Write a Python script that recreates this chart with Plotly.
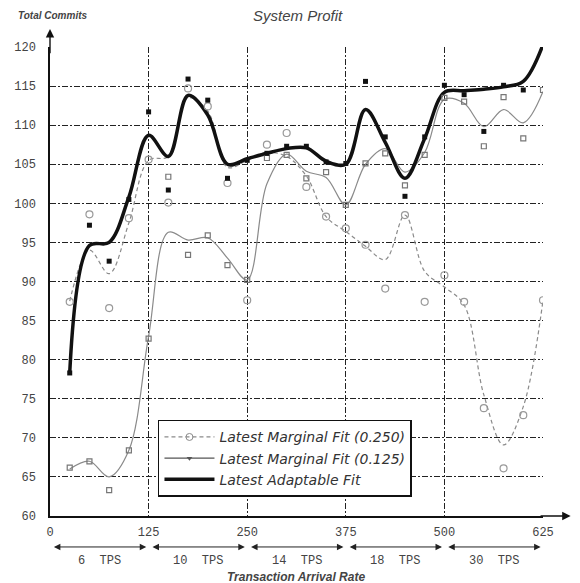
import plotly.graph_objects as go

# ---------------- data ----------------
rates = [25, 50, 75, 100, 125, 150, 175, 200, 225, 250, 275, 300, 325,
         350, 375, 400, 425, 450, 475, 500, 525, 550, 575, 600, 625]

# smoothed fits
fit_250 = [87.5, 94.0, 91.0, 97.5, 105.5, 106.0, 113.5, 111.8, 104.6, 105.5, 106.5, 106.0, 103.5,
           98.3, 96.4, 94.5, 92.8, 98.5, 91.3, 89.3, 87.0, 75.5, 69.1, 74.0, 87.6]
fit_125 = [66.0, 67.0, 65.0, 68.4, 83.0, 96.3, 95.3, 95.6, 93.0, 90.2, 102.5, 106.3, 104.1,
           103.3, 99.8, 105.0, 107.0, 104.0, 106.5, 113.3, 112.8, 109.8, 112.0, 110.3, 114.3]
fit_adapt = [78.3, 94.6, 95.0, 100.8, 108.7, 106.0, 113.8, 111.3, 105.0, 105.7, 106.4, 107.0, 107.1,
             105.4, 105.0, 112.0, 107.8, 103.2, 108.3, 114.2, 114.4, 114.6, 114.9, 115.6, 120.3]

# observed points
pts_250 = [87.4, 98.6, 86.6, 98.1, 105.6, 100.1, 114.7, 112.4, 102.6, 87.6, 107.5, 109.0, 102.1,
           98.3, 96.8, 94.7, 89.1, 98.5, 87.4, 90.8, 87.4, 73.8, 66.1, 72.9, 87.6]
pts_125 = [66.2, 67.0, 63.3, 68.4, 82.7, 103.4, 93.4, 95.9, 92.1, 90.2, 105.8, 106.2, 103.2,
           104.0, 99.8, 105.1, 106.4, 102.3, 106.2, 113.5, 113.0, 107.3, 113.6, 108.3, 114.5]
pts_adapt = [78.3, 97.2, 92.6, 100.5, 111.7, 101.7, 115.9, 113.2, 103.2, 105.5, 106.4, 107.3, 107.3,
             105.3, 105.1, 115.6, 108.5, 100.9, 108.5, 115.1, 113.9, 109.2, 115.1, 114.5, 120.3]

x_ticks = [0, 125, 250, 375, 500, 625]
y_ticks = [60, 65, 70, 75, 80, 85, 90, 95, 100, 105, 110, 115, 120]
tps_labels = ["6  TPS", "10  TPS", "14  TPS", "18  TPS", "30  TPS"]
series_names = ["Latest Marginal Fit (0.250)", "Latest Marginal Fit (0.125)", "Latest Adaptable Fit"]

MONO = "Liberation Mono"
SANS = "Liberation Sans"

fig = go.Figure()

# fitted curves
fig.add_trace(go.Scatter(x=rates, y=fit_250, mode="lines", line=dict(color="#8a8a8a", width=1.2, dash="4px,3px"),
                         line_shape="spline", showlegend=False, hoverinfo="skip"))
fig.add_trace(go.Scatter(x=rates, y=fit_125, mode="lines", line=dict(color="#8a8a8a", width=1.2),
                         line_shape="spline", showlegend=False, hoverinfo="skip"))
fig.add_trace(go.Scatter(x=rates, y=fit_adapt, mode="lines", line=dict(color="#111111", width=3.5),
                         line_shape="spline", showlegend=False, hoverinfo="skip"))

# observed points
fig.add_trace(go.Scatter(x=rates, y=pts_250, mode="markers",
                         marker=dict(symbol="circle-open", size=7, color="#999999", line=dict(width=1.2)),
                         showlegend=False))
fig.add_trace(go.Scatter(x=rates, y=pts_125, mode="markers",
                         marker=dict(symbol="square-open", size=5, color="#777777", line=dict(width=1.2)),
                         showlegend=False))
fig.add_trace(go.Scatter(x=rates, y=pts_adapt, mode="markers",
                         marker=dict(symbol="square", size=5, color="#111111"),
                         showlegend=False))

# legend entries
fig.add_trace(go.Scatter(x=[None], y=[None], mode="lines+markers", name=series_names[0],
                         line=dict(color="#8a8a8a", width=1.2, dash="4px,3px"),
                         marker=dict(symbol="circle-open", size=7, color="#8a8a8a")))
fig.add_trace(go.Scatter(x=[None], y=[None], mode="lines+markers", name=series_names[1],
                         line=dict(color="#555555", width=1.2),
                         marker=dict(symbol="triangle-down", size=5, color="#555555")))
fig.add_trace(go.Scatter(x=[None], y=[None], mode="lines", name=series_names[2],
                         line=dict(color="#111111", width=3.5)))

annotations = []
# axis arrows
annotations.append(dict(x=0, y=122.3, xref="x", yref="y", ax=0, ay=119, axref="x", ayref="y",
                        showarrow=True, arrowhead=2, arrowsize=1.2, arrowwidth=1.4, arrowcolor="#111", text=""))
annotations.append(dict(x=660, y=60, xref="x", yref="y", ax=620, ay=60, axref="x", ayref="y",
                        showarrow=True, arrowhead=2, arrowsize=1.2, arrowwidth=1.4, arrowcolor="#111", text=""))
annotations.append(dict(x=640, y=60, xref="x", yref="y", yshift=-14, xanchor="left", showarrow=False,
                        text="APS", font=dict(family=SANS, size=7, color="#444")))

# interval arrows and TPS labels
for i, lab in enumerate(tps_labels):
    a, b = x_ticks[i], x_ticks[i + 1]
    annotations.append(dict(x=b - 3, y=-0.066, xref="x", yref="paper", ax=a + 3, ay=0, axref="x", ayref="pixel",
                            showarrow=True, arrowhead=2, arrowside="end+start", arrowsize=1.3, arrowwidth=1,
                            arrowcolor="#222", text=""))
    annotations.append(dict(x=(a + b) / 2, y=-0.096, xref="x", yref="paper", yanchor="middle",
                            showarrow=False, text=lab,
                            font=dict(family=MONO, size=12, color="#444")))

annotations.append(dict(x=0.498, y=-0.131, xref="paper", yref="paper", yanchor="middle", showarrow=False,
                        text="<b><i>Transaction Arrival Rate</i></b>", font=dict(family=SANS, size=12, color="#444")))
annotations.append(dict(x=0.503, y=1.068, xref="paper", yref="paper", yanchor="middle", showarrow=False,
                        text="<i>System Profit</i>", font=dict(family=SANS, size=15, color="#444")))
annotations.append(dict(x=-0.068, y=1.068, xref="paper", yref="paper", yanchor="middle", showarrow=False,
                        xanchor="left",
                        text="<b><i>Total Commits</i></b>", font=dict(family=SANS, size=10, color="#444")))

fig.update_layout(
    width=580, height=583,
    margin=dict(l=50, r=37, t=47, b=67),
    paper_bgcolor="white", plot_bgcolor="white",
    showlegend=True,
    legend=dict(x=0.219, y=0.205, xanchor="left", yanchor="top",
                bgcolor="white", bordercolor="#111", borderwidth=1.5,
                font=dict(family="DejaVu Sans", size=14, color="#333", style="italic"),
                itemwidth=50, tracegroupgap=0),
    annotations=annotations,
)

fig.update_xaxes(range=[0, 625], tickvals=x_ticks, ticktext=[str(v) for v in x_ticks],
                 showline=True, linecolor="#111", linewidth=1.5,
                 showgrid=True, gridcolor="#222", gridwidth=1, griddash="6px,2px,2px,2px",
                 zeroline=False, ticks="", ticklabelstandoff=4,
                 tickfont=dict(family=MONO, size=12, color="#444"))
fig.update_yaxes(range=[60, 120], tickvals=y_ticks, ticktext=[str(v) for v in y_ticks],
                 showline=True, linecolor="#111", linewidth=1.5,
                 showgrid=True, gridcolor="#222", gridwidth=1, griddash="6px,2px,2px,2px",
                 zeroline=False, ticks="", ticklabelstandoff=10,
                 tickfont=dict(family=MONO, size=12, color="#444"))

fig.write_html("out.html")
